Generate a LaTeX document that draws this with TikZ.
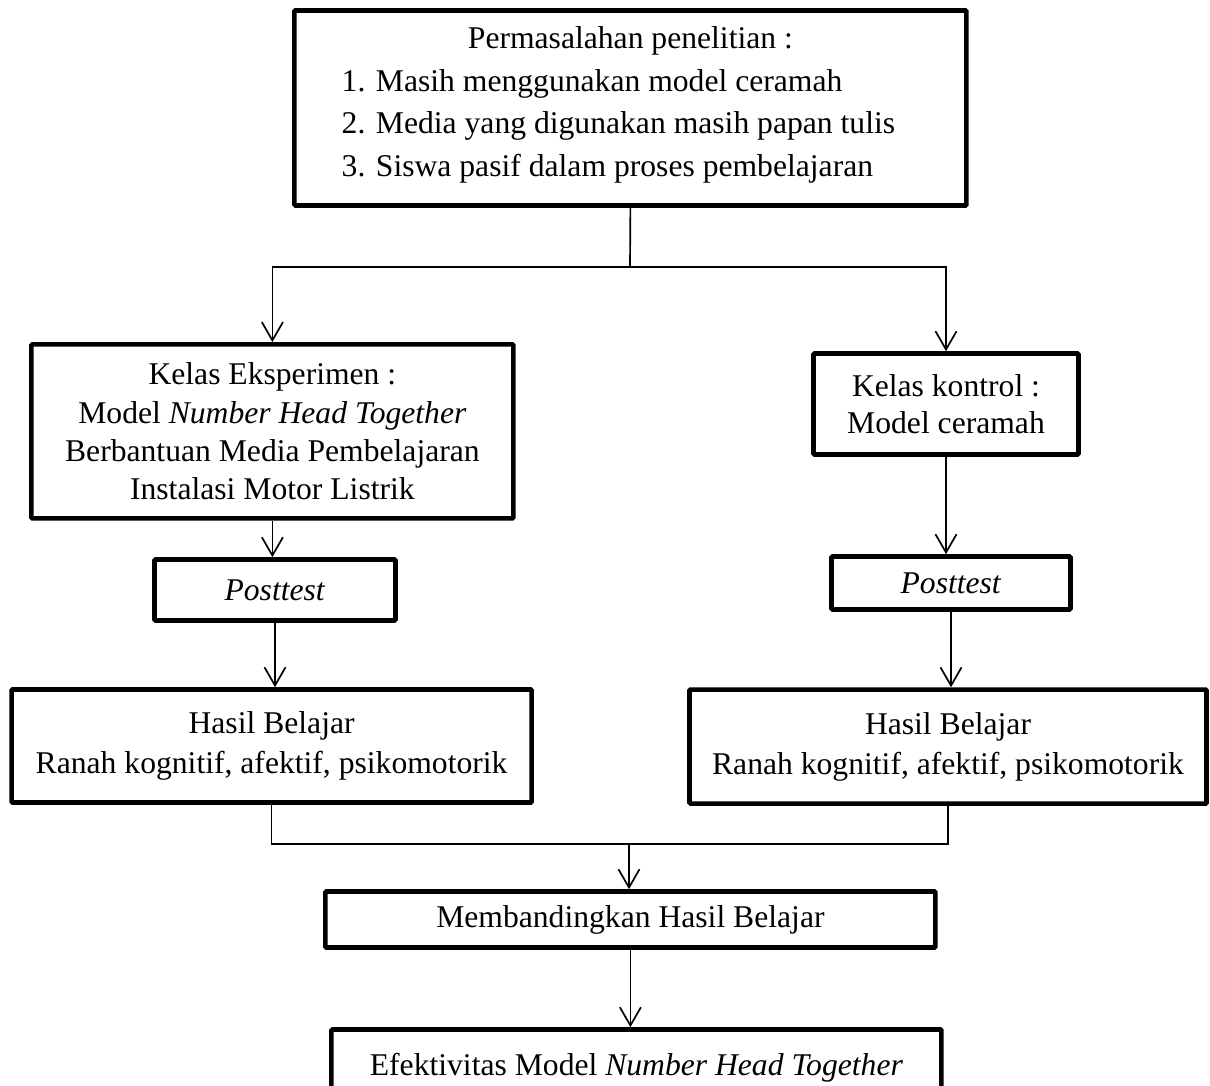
\documentclass[tikz,border=0pt]{standalone}
\usepackage{fontspec}
\setmainfont{Liberation Serif}
\usetikzlibrary{arrows.meta}

\begin{document}
\begin{tikzpicture}[font=\fontsize{22.5}{26}\selectfont,
  box/.style={draw, line width=3.3pt, rounded corners=0.8pt, align=center, inner sep=0pt},
  arr/.style={-{Straight Barb[length=13pt,width=15pt]}, line width=1.2pt},
  link/.style={line width=1.2pt}]
\clip (0,0) rectangle (30.25,27.125);
% problems
\node[box, minimum width=16.8cm, minimum height=4.875cm, font=\fontsize{22.5}{30.5}\selectfont] (perm) at (15.76,24.425) {Permasalahan penelitian :\\ \begin{tabular}[t]{@{}l@{}}1. Masih menggunakan model ceramah\\ 2. Media yang digunakan masih papan tulis\\ 3. Siswa pasif dalam proses pembelajaran\end{tabular}\hspace*{0.6cm}};
% two classes
\node[box, minimum width=12.05cm, minimum height=4.35cm, font=\fontsize{22.5}{27.2}\selectfont] (eksp) at (6.81,16.34) {Kelas Eksperimen :\\ Model \textit{Number Head Together}\\ Berbantuan Media Pembelajaran\\ Instalasi Motor Listrik};
\node[box, minimum width=6.625cm, minimum height=2.525cm] (kont) at (23.65,17.025) {Kelas kontrol :\\ Model ceramah};
\node[box, minimum width=6.025cm, minimum height=1.525cm] (postL) at (6.875,12.375) {\textit{Posttest}};
\node[box, minimum width=5.975cm, minimum height=1.325cm] (postR) at (23.775,12.55) {\textit{Posttest}};
\node[box, minimum width=13.0cm, minimum height=2.825cm, font=\fontsize{22.5}{28.4}\selectfont] (hasilL) at (6.79,8.475) {Hasil Belajar\\ Ranah kognitif, afektif, psikomotorik};
\node[box, minimum width=12.925cm, minimum height=2.85cm, font=\fontsize{22.5}{28.4}\selectfont] (hasilR) at (23.7,8.46) {Hasil Belajar\\ Ranah kognitif, afektif, psikomotorik};
% comparison
\node[box, minimum width=15.25cm, minimum height=1.4cm] (band) at (15.76,4.1375) {Membandingkan Hasil Belajar};
\node[box, minimum width=15.25cm, minimum height=1.925cm] (efek) at (15.91,0.425) {Efektivitas Model \textit{Number Head Together}};
% connectors
\coordinate (split) at (15.75,20.45);
\coordinate (merge) at (15.725,6.025);
\draw[link] (perm.south) -- (split);
\draw[arr] (split) -| (eksp.north);
\draw[arr] (split) -| (kont.north);
\draw[arr] (eksp.south) -- (eksp.south |- postL.north);
\draw[arr] (postL.south) -- (postL.south |- hasilL.north);
\draw[arr] (kont.south) -- (kont.south |- postR.north);
\draw[arr] (postR.south) -- (postR.south |- hasilR.north);
\draw[link] (hasilL.south) |- (merge) -| (hasilR.south);
\draw[arr] (merge) -- (merge |- band.north);
\draw[arr] (band.south) -- (band.south |- efek.north);
\end{tikzpicture}
\end{document}
